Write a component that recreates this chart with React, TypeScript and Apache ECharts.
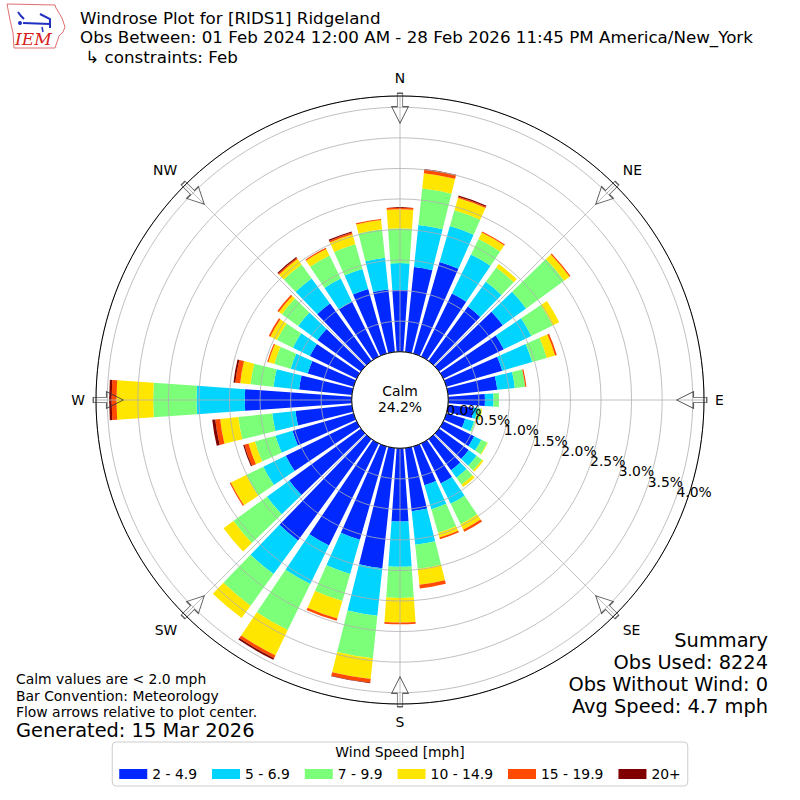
import { useEffect, useRef } from "react";
import * as echarts from "echarts";

const FONT = '"DejaVu Sans", sans-serif';

// 36 direction bins, 10 degrees apart, starting at north
const directions = [
  "0", "10", "20", "30", "40", "50", "60", "70", "80",
  "90", "100", "110", "120", "130", "140", "150", "160", "170",
  "180", "190", "200", "210", "220", "230", "240", "250", "260",
  "270", "280", "290", "300", "310", "320", "330", "340", "350",
];
const compassLabels = ["N", "NE", "E", "SE", "S", "SW", "W", "NW"];

const speedBins = ["2 - 4.9", "5 - 6.9", "7 - 9.9", "10 - 14.9", "15 - 19.9", "20+"];
const speedColors = ["#0028ff", "#00d4ff", "#7cff79", "#ffe600", "#ff4a00", "#800000"];

// percent of observations per direction and speed bin
const speed2to5 = [1.01, 1.40, 1.56, 1.15, 1.10, 1.29, 1.10, 0.95, 0.81, 0.60, 0.42, 0.32, 0.56, 0.60, 0.63, 0.73, 0.66, 1.04,
  1.20, 1.98, 1.59, 1.86, 2.05, 1.45, 1.29, 1.04, 0.93, 1.75, 0.87, 0.78, 0.85, 0.88, 1.16, 1.00, 1.10, 1.03];
const speed5to7 = [0.44, 0.69, 0.61, 0.71, 0.50, 0.47, 0.50, 0.51, 0.29, 0.14, 0.06, 0.15, 0.13, 0.16, 0.15, 0.37, 0.41, 0.55,
  0.74, 0.78, 0.58, 0.70, 0.68, 0.45, 0.41, 0.29, 0.38, 0.79, 0.42, 0.29, 0.31, 0.39, 0.51, 0.42, 0.34, 0.52];
const speed7to10 = [0.57, 0.60, 0.27, 0.28, 0.29, 0.77, 0.39, 0.25, 0.17, 0.09, 0.06, 0.02, 0.11, 0.11, 0.14, 0.37, 0.40, 0.40,
  0.51, 0.70, 0.46, 0.84, 0.64, 0.68, 0.31, 0.35, 0.56, 0.71, 0.38, 0.28, 0.29, 0.33, 0.28, 0.42, 0.42, 0.47];
const speed10to15 = [0.31, 0.25, 0.21, 0.12, 0.07, 0.11, 0.12, 0.14, 0, 0, 0.02, 0, 0.01, 0.03, 0.05, 0.10, 0.08, 0.26,
  0.40, 0.34, 0.30, 0.46, 0.25, 0.20, 0.28, 0.11, 0.30, 0.60, 0.17, 0.10, 0.12, 0.06, 0.11, 0.12, 0.17, 0.15];
const speed15to20 = [0.03, 0.06, 0.02, 0.02, 0, 0.02, 0, 0.03, 0.02, 0, 0, 0, 0, 0, 0, 0.04, 0.03, 0.06,
  0.03, 0.06, 0.04, 0.05, 0, 0, 0.02, 0.07, 0.08, 0.08, 0.08, 0.02, 0.03, 0.03, 0.02, 0.02, 0.03, 0.02];
const speed20plus = [0, 0.01, 0.02, 0, 0, 0, 0, 0, 0, 0, 0, 0, 0, 0, 0, 0, 0, 0,
  0, 0.01, 0, 0.03, 0, 0, 0, 0.02, 0.05, 0.04, 0.03, 0, 0, 0, 0.02, 0, 0.02, 0];

const binValues = [speed2to5, speed5to7, speed7to10, speed10to15, speed15to20, speed20plus];

const radiusMax = 4.185; // percent at the outer frame
const ringStep = 0.5;
const arrowRadius = 3.984;

const titleLines = [
  "Windrose Plot for [RIDS1] Ridgeland",
  "Obs Between: 01 Feb 2024 12:00 AM - 28 Feb 2026 11:45 PM America/New_York",
  " \u21b3 constraints: Feb",
];
const noteLines = ["Calm values are < 2.0 mph", "Bar Convention: Meteorology", "Flow arrows relative to plot center."];
const summaryLines = ["Summary", "Obs Used: 8224", "Obs Without Wind: 0", "Avg Speed: 4.7 mph"];

const arrowPath = "path://M5.65 0 L11.05 0 L11.05 13.3 L16.7 13.3 L8.35 30 L0 13.3 L5.65 13.3 Z";

const isRing = (v: number) => Math.abs(v / ringStep - Math.round(v / ringStep)) < 1e-6;

export default function App() {
  const chartRef = useRef<HTMLDivElement>(null);

  useEffect(() => {
    if (!chartRef.current) return;
    const chart = echarts.init(chartRef.current, null, { renderer: "svg" });

    const center = [400, 400];
    const radius = [48.3, 304];

    const barSeries = speedBins.map((name, i) => ({
      name,
      type: "bar",
      coordinateSystem: "polar",
      polarIndex: 0,
      stack: "rose",
      barWidth: "80%",
      itemStyle: { color: speedColors[i] },
      data: binValues[i],
      z: 2,
    }));

    const text = (t: string, x: number, y: number, size: number, lh: number, align = "left", extra: any = {}) => ({
      type: "text",
      x,
      y,
      silent: true,
      style: {
        text: t,
        fill: "#000",
        fontSize: size,
        lineHeight: lh,
        fontFamily: FONT,
        align,
        verticalAlign: "middle",
        ...extra,
      },
    });

    const graphics: any[] = [
      ...titleLines.map((t, i) => text(t, 80, 17.5 + i * 19.5, 16.7, 17)),
      ...noteLines.map((t, i) => text(t, 16, 679 + i * 16.5, 13.9, 15.5)),
      text("Generated: 15 Mar 2026", 16, 730, 19.4, 19),
      ...summaryLines.map((t, i) => text(t, 768, 640 + i * 22, 19.4, 21, "right")),
      text("Calm", 400, 391, 13.9, 15, "center"),
      text("24.2%", 400, 407, 13.9, 15, "center"),
      text("Wind Speed [mph]", 400, 752, 13.9, 15, "center"),
      // IEM logo
      {
        type: "polygon",
        silent: true,
        shape: {
          points: [[7, 4], [55, 5], [56, 8], [62, 18], [65, 27], [63, 32], [59, 36], [57, 42], [55, 48], [14, 48], [13, 33], [10, 20]],
        },
        style: { fill: "none", stroke: "#e07070", lineWidth: 1 },
      },
      { type: "polyline", silent: true, shape: { points: [[18, 12], [21, 16], [24, 19]] }, style: { stroke: "#2030c0", lineWidth: 2, fill: "none" } },
      { type: "line", silent: true, shape: { x1: 23, y1: 23, x2: 50, y2: 24 }, style: { stroke: "#2030c0", lineWidth: 2 } },
      { type: "polyline", silent: true, shape: { points: [[40, 14], [50, 19], [50, 28]] }, style: { stroke: "#2030c0", lineWidth: 2, fill: "none" } },
      { type: "circle", silent: true, shape: { cx: 20, cy: 23, r: 2 }, style: { fill: "#2030c0" } },
      { type: "line", silent: true, shape: { x1: 42, y1: 27, x2: 43, y2: 32 }, style: { stroke: "#2030c0", lineWidth: 1.5 } },
      text("IEM", 15, 39, 17, 17, "left", { fill: "#d62020", fontFamily: '"DejaVu Serif", serif', fontStyle: "italic" }),
    ];

    // radius labels along a ray 19.6 degrees below east; zero label on its own axis so neither gets hidden
    const ringLabelAxis = (polarIndex: number, formatter: (v: number) => string, showMinLabel: boolean) => ({
      polarIndex,
      type: "value",
      min: 0,
      max: radiusMax,
      interval: ringStep,
      axisLine: { show: false },
      axisTick: { show: false },
      splitLine: { show: false },
      axisLabel: {
        show: true,
        showMinLabel,
        margin: 2,
        align: "left",
        verticalAlign: "bottom",
        lineHeight: 9,
        color: "#000",
        fontSize: 13.9,
        fontFamily: FONT,
        formatter,
      },
      z: 14,
    });

    const option: any = {
      animation: false,
      backgroundColor: "#ffffff",
      polar: [
        { center, radius },
        { center, radius },
        { center, radius },
        { center, radius },
      ],
      angleAxis: [
        {
          polarIndex: 0,
          type: "category",
          data: directions,
          startAngle: 95,
          clockwise: true,
          axisLine: { show: true, lineStyle: { color: "#000", width: 1 } },
          axisTick: { show: false },
          axisLabel: { show: false },
          splitLine: { show: false },
          z: 12,
        },
        {
          polarIndex: 1,
          type: "category",
          data: compassLabels,
          boundaryGap: false,
          startAngle: 90,
          clockwise: true,
          axisLine: { show: false },
          axisTick: { show: false },
          axisLabel: { show: true, margin: 11, color: "#000", fontSize: 13.9, fontFamily: FONT },
          splitLine: { show: true, lineStyle: { color: "#b0b0b0", width: 0.8 } },
          z: 10,
        },
        { polarIndex: 2, type: "value", min: 0, max: 360, startAngle: -19.6, show: false },
        { polarIndex: 3, type: "value", min: 0, max: 360, startAngle: -19.6, show: false },
      ],
      radiusAxis: [
        {
          polarIndex: 0,
          type: "value",
          min: 0,
          max: radiusMax,
          interval: ringStep,
          axisLine: { show: false },
          axisTick: { show: false },
          axisLabel: { show: false },
          splitLine: { show: true, lineStyle: { color: "#b0b0b0", width: 0.8 } },
          z: 10,
        },
        { polarIndex: 1, type: "value", min: 0, max: radiusMax, show: false },
        ringLabelAxis(2, (v: number) => (v > 0 && isRing(v) ? v.toFixed(1) + "%" : ""), false),
        ringLabelAxis(3, (v: number) => (v === 0 ? "0.0%" : ""), true),
      ],
      legend: {
        data: speedBins,
        top: 742,
        left: "center",
        icon: "rect",
        itemWidth: 28,
        itemHeight: 10,
        itemGap: 15,
        padding: [25, 7, 5, 7],
        borderColor: "#cccccc",
        borderWidth: 1,
        borderRadius: 4,
        selectedMode: false,
        textStyle: { color: "#000", fontSize: 13.9, fontFamily: FONT },
      },
      series: [
        ...barSeries,
        {
          type: "scatter",
          coordinateSystem: "polar",
          polarIndex: 1,
          symbol: arrowPath,
          symbolSize: [16.7, 30],
          itemStyle: { color: "rgba(255,255,255,0)", borderColor: "#333", borderWidth: 1 },
          data: compassLabels.map((name, i) => ({ value: [arrowRadius, name], symbolRotate: -45 * i })),
          silent: true,
          z: 20,
        },
      ],
      graphic: graphics,
    };

    chart.setOption(option);
    return () => chart.dispose();
  }, []);

  return (
    <div
      ref={chartRef}
      style={{ position: "absolute", left: 0, top: 0, width: "800px", height: "800px" }}
    />
  );
}
